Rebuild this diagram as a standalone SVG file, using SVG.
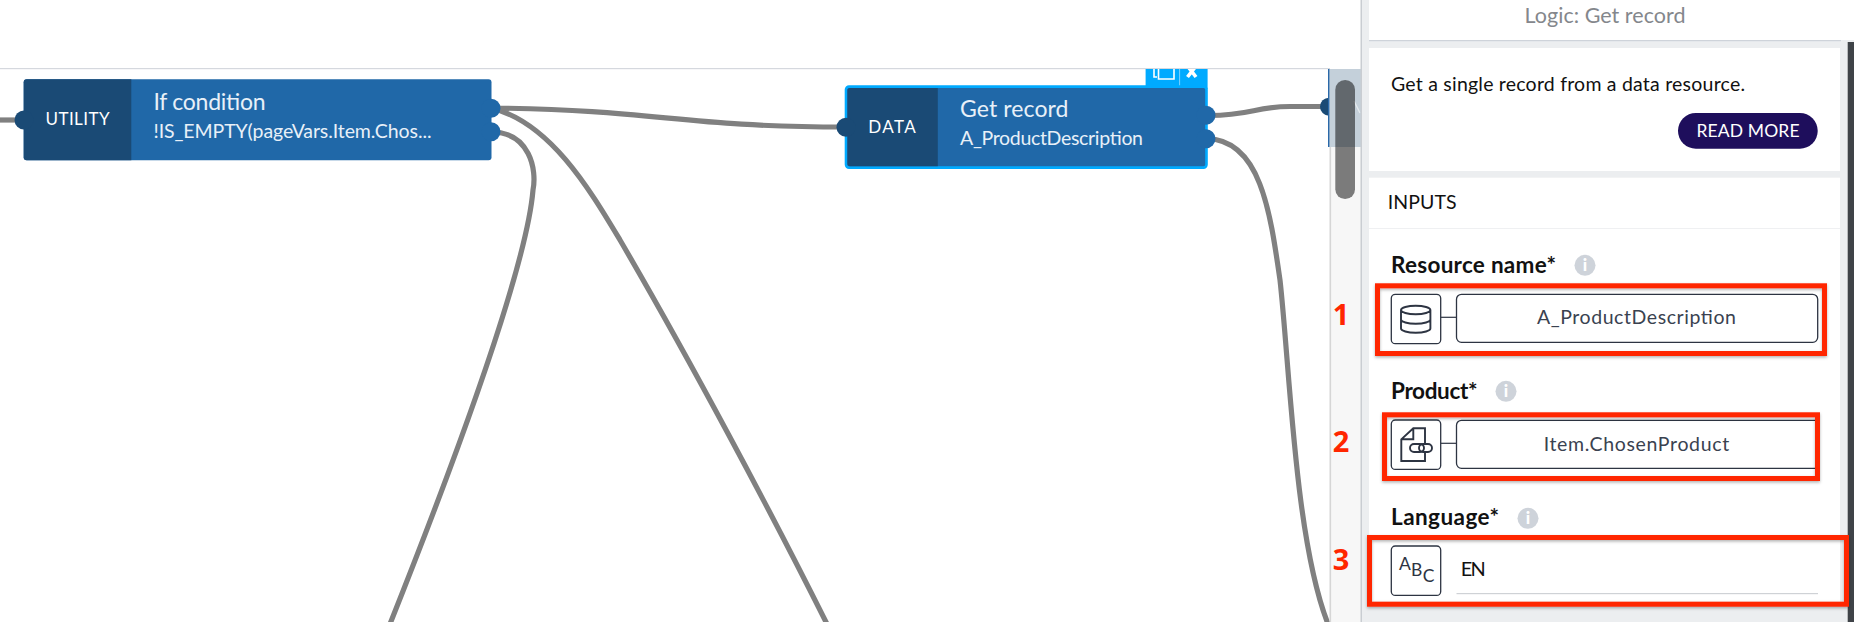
<svg xmlns="http://www.w3.org/2000/svg" width="1854" height="622" viewBox="0 0 1854 622">
<style>
text{font-family:"Lato","Liberation Sans",sans-serif}
.conn{fill:none;stroke:#808080;stroke-width:5.2}
.body{fill:#2068a8}
.dark{fill:#1a4a75}
.pr{fill:#2068a8}
.pl{fill:#1a4a75}
.ntitle{font-size:23px;fill:#e8f0f8}
.nsub{font-size:19.500px;fill:#e8f0f8}
.ntype{font-size:17px;fill:#fff;text-anchor:middle}
.card{fill:#fff}
.lbl{font-size:22.500px;font-weight:700;fill:#111}
.info{fill:#ced3da}
.infot{font-size:17px;font-weight:900;fill:#fff;text-anchor:middle}
.ibox{fill:#fff;stroke:#2d3442;stroke-width:1.3}
.ic{fill:none;stroke:#2d3442;stroke-width:1.9}
.fld{font-size:19.500px;fill:#3a4250;text-anchor:middle}
.red{fill:none;stroke:#ff2600;stroke-width:5;filter:url(#sh)}
.num{font-family:"Open Sans","Liberation Sans",sans-serif;font-size:29px;font-weight:700;fill:#ff2600;text-anchor:middle}
</style>
<defs>
<filter id="sh" x="-5%" y="-15%" width="110%" height="130%"><feDropShadow dx="0" dy="1.500" stdDeviation="1.500" flood-color="#000" flood-opacity=".3"/></filter>
<clipPath id="tabclip"><rect x="1145" y="69" width="64" height="20"/></clipPath>
<clipPath id="fieldclip"><rect x="1450" y="415" width="365" height="60"/></clipPath>
</defs>
<rect width="1854" height="622" fill="#fff"/>
<rect x="0" y="68" width="1330" height="1.200" fill="#d5d8de"/>

<g id="connectors">
<path class="conn" d="M0,120H24"/>
<path class="conn" d="M491,108C660,110 680,127 845,127"/>
<path class="conn" d="M491,108C550,122 590,190 620,240C690,360 770,510 827,624"/>
<path class="conn" d="M491,132C530,132 537,170 533,190C528,250 485,385 390,624"/>
<path class="conn" d="M1207,115.500C1250,116 1255,106.500 1290,106.500H1325"/>
<path class="conn" d="M1207,138.700C1260,140 1270,210 1280,280C1290,370 1295,540 1328,624"/>
</g>

<g id="node-utility">
<rect class="body" x="23.700" y="79.300" width="467.800" height="81" rx="3"/>
<path class="dark" d="M26.700,79.300H131.300V160.300H26.700a3,3 0 0 1-3-3V82.300a3,3 0 0 1 3-3z"/>
<circle class="pl" cx="24" cy="120" r="9.500"/>
<circle class="pr" cx="491" cy="108.300" r="9.500"/>
<circle class="pr" cx="491" cy="131.700" r="9.500"/>
<text class="ntype" x="77.500" y="125" textLength="64">UTILITY</text>
<text class="ntitle" x="153.500" y="110" textLength="112">If condition</text>
<text class="nsub" x="153.500" y="138" textLength="278">!IS_EMPTY(pageVars.Item.Chos...</text>
</g>

<g id="node-data">
<g clip-path="url(#tabclip)">
<rect x="1145.600" y="60" width="62" height="30" fill="#00aaff"/>
<path d="M1154,66V77H1157M1158.500,66H1174V79H1158.500Z" fill="none" stroke="#fff" stroke-width="1.600"/>
<path d="M1179.600,66V90" stroke="#7fd0ff" stroke-width="1"/>
<path d="M1187.500,66L1196,77M1196,66L1187.500,77" stroke="#fff" stroke-width="3.600"/>
</g>
<rect class="body" x="846" y="86.600" width="360.500" height="81" rx="3" stroke="#00aaff" stroke-width="2.600"/>
<path class="dark" d="M850,88H937.800V166.200H850a2.600,2.600 0 0 1-2.600-2.600V90.600A2.600,2.600 0 0 1 850,88z"/>
<circle class="pl" cx="846" cy="127.300" r="9.500"/>
<circle class="pr" cx="1206" cy="115.300" r="9.500"/>
<circle class="pr" cx="1206" cy="138.700" r="9.500"/>
<text class="ntype" x="892" y="132.700" textLength="47.500">DATA</text>
<text class="ntitle" x="960" y="116.700" textLength="108.500">Get record</text>
<text class="nsub" x="960" y="145" textLength="183">A_ProductDescription</text>
</g>

<g id="scrollbar">
<rect x="1330" y="69" width="31" height="553" fill="#f7f7f7"/>
<rect x="1329.500" y="147" width="1.600" height="475" fill="#d6d6d6"/>
<path d="M1329,97.700a9,9 0 0 0 0,18z" class="pl"/>
<rect x="1329" y="69" width="32" height="78" fill="#c4d0da"/>
<rect x="1328" y="69" width="1.400" height="78" fill="#2a68a8"/>
<path d="M1354,101L1360,113" stroke="#e4e9ee" stroke-width="1.400" fill="none"/>
<rect x="1335.300" y="80" width="19.700" height="119" rx="9.800" fill="#000" fill-opacity=".5"/>
</g>

<g id="panel">
<rect x="1361" y="0" width="493" height="622" fill="#eceef0"/>
<rect x="1360.500" y="0" width="1.600" height="622" fill="#c9cdd2"/>
<rect x="1362" y="0" width="492" height="40" fill="#fff"/>
<rect x="1362" y="0" width="7" height="622" fill="#eceef0"/>
<rect x="1369" y="40" width="472" height="1.200" fill="#ced3da"/>
<rect x="1847.700" y="42" width="6.300" height="580" fill="#3f4348"/>
<text x="1605" y="22.700" font-size="21.500" fill="#84878c" text-anchor="middle" textLength="161">Logic: Get record</text>
<rect class="card" x="1369" y="48" width="471" height="123"/>
<text x="1391" y="91.300" font-size="19.500" fill="#111" textLength="354">Get a single record from a data resource.</text>
<rect x="1678" y="113" width="139.700" height="35.700" rx="17.800" fill="#1e0e5c"/>
<text x="1748" y="137" font-size="17.500" fill="#fff" text-anchor="middle" textLength="103">READ MORE</text>
<rect class="card" x="1369" y="177.700" width="471" height="424"/>
<text x="1387.700" y="209" font-size="19.500" fill="#111" textLength="69">INPUTS</text>
<rect x="1369" y="228" width="471" height="1" fill="#eff0f2"/>
</g>

<g id="input-resource">
<text class="lbl" x="1391" y="272.700" textLength="165">Resource name*</text>
<circle class="info" cx="1585" cy="265.300" r="10.500"/><text class="infot" x="1585" y="271.300">i</text>
<rect class="ibox" x="1391.300" y="294.300" width="49.400" height="49.400" rx="4"/>
<path d="M1440.700,317.300H1456.500" stroke="#2d3442" stroke-width="1.200"/>
<path class="ic" d="M1401,310a14.700,4.200 0 0 1 29.400,0a14.700,4.200 0 0 1-29.400,0V328.500a14.700,4.200 0 0 0 29.400,0V310M1401,319.500a14.700,4.200 0 0 0 29.400,0"/>
<rect class="ibox" x="1456.500" y="294.300" width="361.200" height="48" rx="5"/>
<text class="fld" x="1636.400" y="324.300" textLength="199">A_ProductDescription</text>
<rect class="red" x="1377.500" y="285.800" width="447" height="67.700"/>
<text class="num" x="1341" y="325">1</text>
</g>

<g id="input-product">
<text class="lbl" x="1391" y="399" textLength="86.500">Product*</text>
<circle class="info" cx="1506" cy="391.300" r="10.500"/><text class="infot" x="1506" y="397.300">i</text>
<rect class="ibox" x="1391.300" y="420" width="49.400" height="49.400" rx="4"/>
<path d="M1440.700,443.300H1456.500" stroke="#2d3442" stroke-width="1.200"/>
<path class="ic" d="M1425,443V428.300H1413.300L1401.300,439.300V461H1425V453M1413.300,428.300V439.300H1401.300"/>
<rect class="ic" x="1410" y="444" width="14" height="8" rx="4" stroke-width="1.700"/>
<rect class="ic" x="1419" y="444" width="13" height="8" rx="4" stroke-width="1.700"/>
<rect class="ibox" x="1456.500" y="420.300" width="375" height="48" rx="5" clip-path="url(#fieldclip)"/>
<text class="fld" x="1636.400" y="450.700" textLength="185.500">Item.ChosenProduct</text>
<rect class="red" x="1384.500" y="414.800" width="433" height="63.700"/>
<text class="num" x="1341" y="452.300">2</text>
</g>

<g id="input-language">
<text class="lbl" x="1391" y="525" textLength="108">Language*</text>
<circle class="info" cx="1528" cy="518.300" r="10.500"/><text class="infot" x="1528" y="524.300">i</text>
<rect class="ibox" x="1391.300" y="546" width="49.400" height="49.400" rx="4"/>
<text font-size="17.500" fill="#2d3442"><tspan x="1399" y="570">A</tspan><tspan x="1411" y="575.700">B</tspan><tspan x="1422.700" y="581.700">C</tspan></text>
<text x="1460.800" y="576" font-size="20" fill="#111" textLength="25">EN</text>
<rect x="1456.500" y="593" width="361.500" height="1.200" fill="#cfd2d6"/>
<rect class="red" x="1369.500" y="537.500" width="477" height="66.700"/>
<text class="num" x="1341" y="570">3</text>
</g>
</svg>
